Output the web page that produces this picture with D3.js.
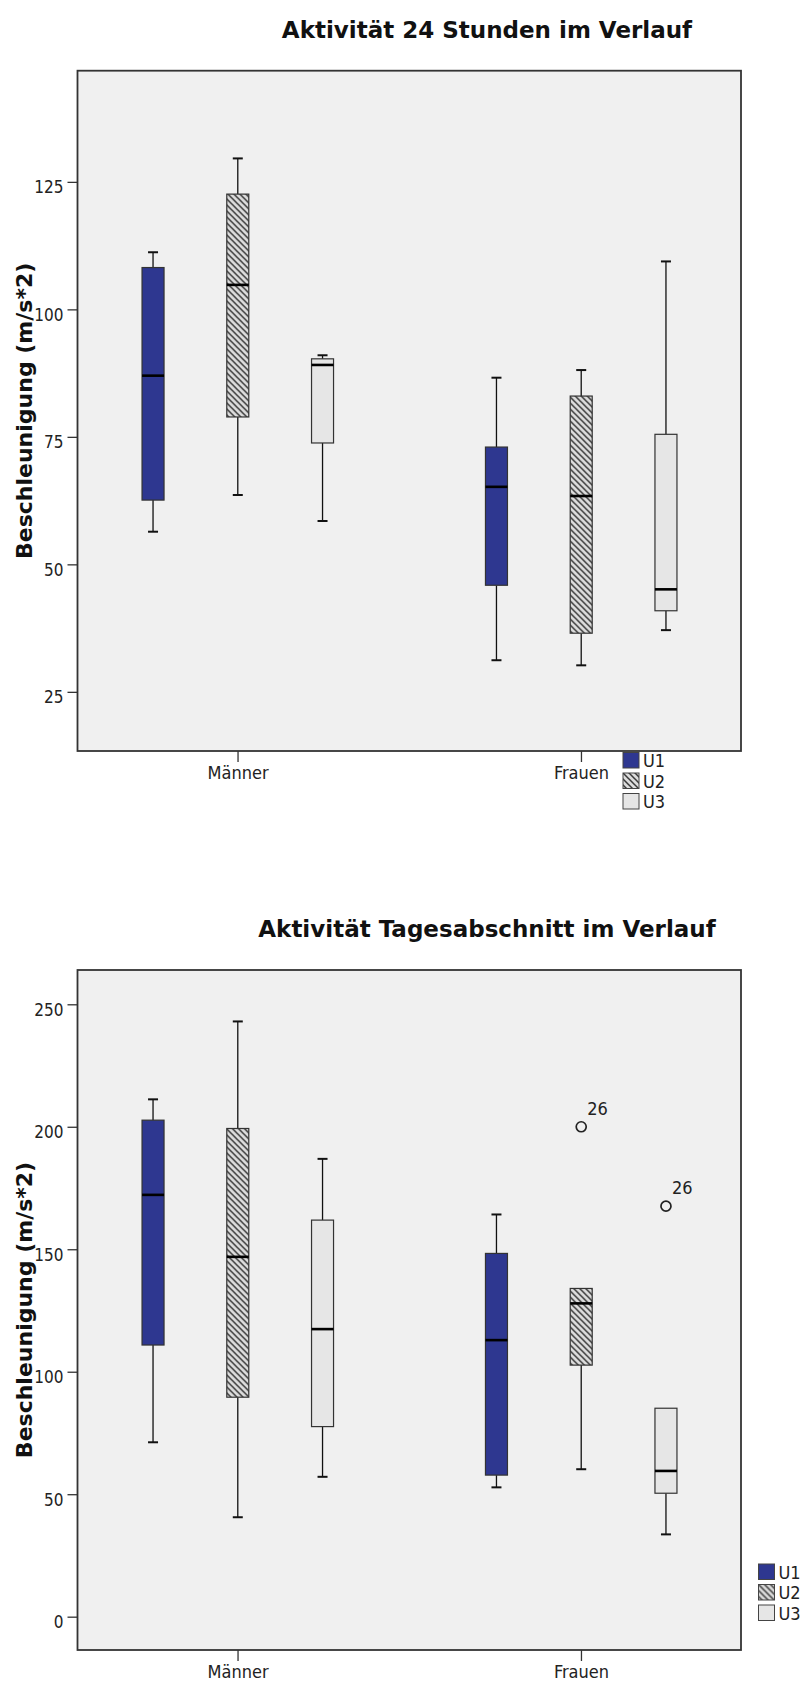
<!DOCTYPE html>
<html>
<head>
<meta charset="utf-8">
<script src="https://cdn.jsdelivr.net/npm/d3@7"></script>
<style>
  html, body { margin: 0; padding: 0; background: #ffffff; }
  svg { display: block; }
  .cond { font-family: "DejaVu Sans Condensed", "DejaVu Sans", sans-serif; font-stretch: condensed; }
  .bold { font-family: "DejaVu Sans", sans-serif; font-weight: bold; }
</style>
</head>
<body>
<svg id="chart" width="804" height="1684"></svg>
<script>
// Groups and measurement sessions
const groups = ["Männer", "Frauen"];
const sessions = ["U1", "U2", "U3"];

// Box order: Männer U1, U2, U3, Frauen U1, U2, U3
// Panel 1 – 24 Stunden
const dayLow    = [56.4, 63.6, 58.5, 31.2, 30.2, 37.1];
const dayQ1     = [62.6, 78.9, 73.8, 45.9, 36.5, 40.9];
const dayMedian = [87.0, 104.8, 89.1, 65.2, 63.4, 45.1];
const dayQ3     = [108.2, 122.6, 90.3, 73.0, 83.0, 75.5];
const dayHigh   = [111.2, 129.6, 91.0, 86.6, 88.1, 109.4];
const dayTicks  = [25, 50, 75, 100, 125];

// Panel 2 – Tagesabschnitt
const partLow    = [71.2, 40.6, 57.1, 52.8, 60.2, 33.6];
const partQ1     = [110.9, 89.6, 77.6, 57.8, 102.7, 50.4];
const partMedian = [172.2, 146.9, 117.4, 112.9, 127.9, 59.5];
const partQ3     = [202.7, 199.3, 161.9, 148.3, 134.0, 85.1];
const partHigh   = [211.2, 243.0, 186.9, 164.2, 134.0, 85.1];
const partTicks  = [0, 50, 100, 150, 200, 250];
// Outliers: box index, value, case label
const partOutlierBox   = [4, 5];
const partOutlierValue = [200.0, 167.6];
const partOutlierCase  = ["26", "26"];

const svg = d3.select("#chart");
const defs = svg.append("defs");

const hatch = defs.append("pattern")
  .attr("id", "hatch")
  .attr("patternUnits", "userSpaceOnUse")
  .attr("width", 6).attr("height", 6);
hatch.append("rect").attr("width", 6).attr("height", 6).attr("fill", "#dcdcdc");
hatch.append("path")
  .attr("d", "M-1,-1 L7,7 M-1,5 L1,7 M5,-1 L7,1")
  .attr("stroke", "#3a3a3a").attr("stroke-width", 1.5);

const fills = { U1: "#2e3790", U2: "url(#hatch)", U3: "#e6e6e6" };

const frameLeft = 77.5, frameRight = 741;

const x = d3.scalePoint().domain(groups).range([frameLeft, frameRight]).padding(0.466);
const xs = d3.scalePoint().domain(sessions).range([-84.5, 85]);
const boxW = 22, capW = 10;

function drawPanel(p) {
  const g = svg.append("g");
  const y = d3.scaleLinear().domain(p.domain).range([p.bottom, p.top]);

  // plot background and frame
  g.append("rect")
    .attr("x", frameLeft).attr("y", p.top)
    .attr("width", frameRight - frameLeft).attr("height", p.bottom - p.top)
    .attr("fill", "#f0f0f0").attr("stroke", "#333").attr("stroke-width", 1.8);

  // title
  g.append("text").attr("class", "bold")
    .attr("x", 487).attr("y", p.titleY)
    .attr("text-anchor", "middle").attr("font-size", 23).attr("fill", "#111")
    .text(p.title);

  // y axis
  const yAxis = d3.axisLeft(y).tickValues(p.ticks).tickSize(10).tickPadding(4)
    .tickFormat(d3.format("d"));
  const ya = g.append("g").attr("transform", `translate(${frameLeft},0)`).call(yAxis);
  ya.select(".domain").remove();
  ya.selectAll(".tick line").attr("stroke", "#333").attr("stroke-width", 1.3);
  ya.selectAll(".tick text").attr("class", "cond").attr("font-size", 17)
    .attr("fill", "#222").attr("dy", "0.65em").attr("x", -14);

  // y label
  g.append("text").attr("class", "bold")
    .attr("transform", `translate(31.5,${(p.top + p.bottom) / 2}) rotate(-90)`)
    .attr("text-anchor", "middle").attr("font-size", 22).attr("fill", "#111")
    .text("Beschleunigung (m/s*2)");

  // x axis
  const xAxis = d3.axisBottom(x).tickSize(11).tickPadding(4);
  const xa = g.append("g").attr("transform", `translate(0,${p.bottom})`).call(xAxis);
  xa.select(".domain").remove();
  xa.selectAll(".tick line").attr("stroke", "#333").attr("stroke-width", 1.3);
  xa.selectAll(".tick text").attr("class", "cond").attr("font-size", 18)
    .attr("fill", "#222").attr("dy", "0.74em");

  // boxes
  const rows = [];
  groups.forEach((grp, gi) => sessions.forEach((s, si) => {
    const i = gi * sessions.length + si;
    rows.push({ grp, s, lo: p.low[i], q1: p.q1[i], med: p.median[i], q3: p.q3[i], hi: p.high[i] });
  }));

  const box = g.selectAll(".box").data(rows).join("g")
    .attr("class", "box")
    .attr("transform", d => `translate(${x(d.grp) + xs(d.s)},0)`);

  // whiskers
  box.filter(d => d.hi > d.q3).append("line")
    .attr("y1", d => y(d.q3)).attr("y2", d => y(d.hi))
    .attr("stroke", "#111").attr("stroke-width", 1.3);
  box.filter(d => d.lo < d.q1).append("line")
    .attr("y1", d => y(d.q1)).attr("y2", d => y(d.lo))
    .attr("stroke", "#111").attr("stroke-width", 1.3);
  box.filter(d => d.hi > d.q3).append("line")
    .attr("x1", -capW / 2).attr("x2", capW / 2)
    .attr("y1", d => y(d.hi)).attr("y2", d => y(d.hi))
    .attr("stroke", "#111").attr("stroke-width", 2);
  box.filter(d => d.lo < d.q1).append("line")
    .attr("x1", -capW / 2).attr("x2", capW / 2)
    .attr("y1", d => y(d.lo)).attr("y2", d => y(d.lo))
    .attr("stroke", "#111").attr("stroke-width", 2);

  box.append("rect")
    .attr("x", -boxW / 2).attr("width", boxW)
    .attr("y", d => y(d.q3)).attr("height", d => y(d.q1) - y(d.q3))
    .attr("fill", d => fills[d.s]).attr("stroke", "#333").attr("stroke-width", 1.2);

  box.append("line")
    .attr("x1", -boxW / 2).attr("x2", boxW / 2)
    .attr("y1", d => y(d.med)).attr("y2", d => y(d.med))
    .attr("stroke", "#000").attr("stroke-width", 2.6);

  // outliers
  if (p.outBox) {
    p.outBox.forEach((bi, k) => {
      const d = rows[bi];
      const cx = x(d.grp) + xs(d.s), cy = y(p.outValue[k]);
      g.append("circle").attr("cx", cx).attr("cy", cy).attr("r", 5)
        .attr("fill", "none").attr("stroke", "#222").attr("stroke-width", 1.7);
      g.append("text").attr("class", "cond").attr("font-size", 18).attr("fill", "#222")
        .attr("x", cx + 6).attr("y", cy - 12).text(p.outCase[k]);
    });
  }

  // legend
  const lg = g.append("g").attr("transform", `translate(${p.legendX},${p.legendY})`);
  const item = lg.selectAll("g").data(sessions).join("g")
    .attr("transform", (d, i) => `translate(0,${i * 20.5})`);
  item.append("rect").attr("width", 16).attr("height", 15.5)
    .attr("fill", d => fills[d]).attr("stroke", "#444").attr("stroke-width", 1);
  item.append("text").attr("class", "cond").attr("font-size", 18).attr("fill", "#222")
    .attr("x", 20).attr("y", 14.5).text(d => d);
}

drawPanel({
  title: "Aktivität 24 Stunden im Verlauf", titleY: 37.7,
  top: 70.7, bottom: 751, domain: [13.4, 146.8], ticks: dayTicks,
  low: dayLow, q1: dayQ1, median: dayMedian, q3: dayQ3, high: dayHigh,
  legendX: 623, legendY: 752.5
});

drawPanel({
  title: "Aktivität Tagesabschnitt im Verlauf", titleY: 936.5,
  top: 970, bottom: 1650, domain: [-13.6, 264], ticks: partTicks,
  low: partLow, q1: partQ1, median: partMedian, q3: partQ3, high: partHigh,
  outBox: partOutlierBox, outValue: partOutlierValue, outCase: partOutlierCase,
  legendX: 758.5, legendY: 1564
});
</script>
</body>
</html>
